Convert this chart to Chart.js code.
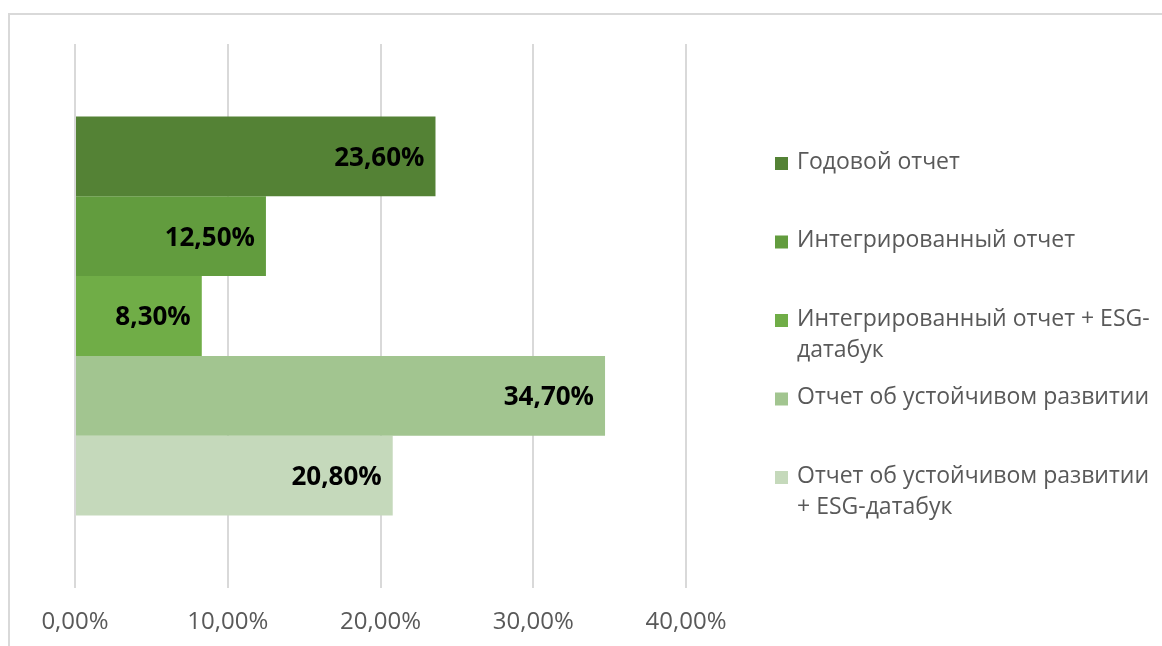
<!DOCTYPE html>
<html lang="ru">
<head>
<meta charset="utf-8">
<title>Формат отчетности</title>
<script src="https://cdn.jsdelivr.net/npm/chart.js@4/dist/chart.umd.min.js"></script>
<style>
  html, body { margin: 0; padding: 0; background: #fff; }
  canvas { display: block; }
</style>
</head>
<body>
<canvas id="report-chart" width="1162" height="646"></canvas>
<script>
// --- Данные ---
const categories = [''];
const seriesNames = [
  'Годовой отчет',
  'Интегрированный отчет',
  'Интегрированный отчет + ESG-датабук',
  'Отчет об устойчивом развитии',
  'Отчет об устойчивом развитии + ESG-датабук'
];
const legendLines = [
  ['Годовой отчет'],
  ['Интегрированный отчет'],
  ['Интегрированный отчет + ESG-', 'датабук'],
  ['Отчет об устойчивом развитии'],
  ['Отчет об устойчивом развитии', '+ ESG-датабук']
];
const seriesValues = [23.6, 12.5, 8.3, 34.7, 20.8];
const xTicks = [0, 10, 20, 30, 40];
const seriesColors = ['#548235', '#629c3e', '#70ad47', '#a2c590', '#c5d9bb'];

const FONT = '"Open Sans", "DejaVu Sans", sans-serif';

function pct(v) {
  return v.toFixed(2).replace('.', ',') + '%';
}

// рамка и фон
const framePlugin = {
  id: 'frame',
  beforeDraw: function (chart) {
    const ctx = chart.ctx;
    ctx.save();
    ctx.fillStyle = '#fff';
    ctx.fillRect(0, 0, chart.width, chart.height);
    ctx.strokeStyle = '#d9d9d9';
    ctx.lineWidth = 2;
    ctx.strokeRect(9, 14, chart.width + 20, chart.height + 20);
    ctx.restore();
  }
};

// подписи значений у конца столбца
const valueLabels = {
  id: 'valueLabels',
  afterDatasetsDraw: function (chart) {
    const ctx = chart.ctx;
    ctx.save();
    ctx.font = 'bold 26px ' + FONT;
    ctx.fillStyle = '#000';
    ctx.textAlign = 'right';
    ctx.textBaseline = 'middle';
    chart.data.datasets.forEach(function (ds, i) {
      chart.getDatasetMeta(i).data.forEach(function (bar, j) {
        ctx.fillText(pct(ds.data[j]), bar.x - 11, bar.y + 2);
      });
    });
    ctx.restore();
  }
};

// легенда справа, с переносом строк
const sideLegend = {
  id: 'sideLegend',
  afterDraw: function (chart) {
    const ctx = chart.ctx;
    const top = 162;
    const step = 78.5;
    const lineH = 31;
    ctx.save();
    ctx.font = '23px ' + FONT;
    ctx.textBaseline = 'middle';
    ctx.textAlign = 'left';
    legendLines.forEach(function (lines, i) {
      const y = top + i * step;
      ctx.fillStyle = seriesColors[i];
      ctx.fillRect(775, y - 5, 13, 13);
      ctx.fillStyle = '#595959';
      lines.forEach(function (txt, k) {
        ctx.fillText(txt, 797, y + k * lineH);
      });
    });
    ctx.restore();
  }
};

const datasets = seriesNames.map(function (name, i) {
  return {
    label: name,
    data: [seriesValues[i]],
    backgroundColor: seriesColors[i],
    borderWidth: 0,
    categoryPercentage: 0.733,
    barPercentage: 1
  };
});

new Chart(document.getElementById('report-chart'), {
  type: 'bar',
  data: { labels: categories, datasets: datasets },
  plugins: [framePlugin, valueLabels, sideLegend],
  options: {
    indexAxis: 'y',
    responsive: false,
    animation: false,
    layout: { padding: { left: 75, right: 476, top: 44, bottom: 0 } },
    plugins: {
      legend: { display: false },
      tooltip: { enabled: false }
    },
    scales: {
      x: {
        min: xTicks[0],
        max: xTicks[xTicks.length - 1],
        afterBuildTicks: function (axis) {
          axis.ticks = xTicks.map(function (v) { return { value: v }; });
        },
        afterFit: function (axis) {
          axis.height = 58;
        },
        grid: { color: '#d9d9d9', lineWidth: 2, drawTicks: false },
        border: { display: false },
        ticks: {
          padding: 20,
          color: '#595959',
          font: { family: FONT, size: 24 },
          maxRotation: 0,
          callback: function (v) { return pct(v); }
        }
      },
      y: {
        display: false
      }
    }
  }
});
</script>
</body>
</html>
